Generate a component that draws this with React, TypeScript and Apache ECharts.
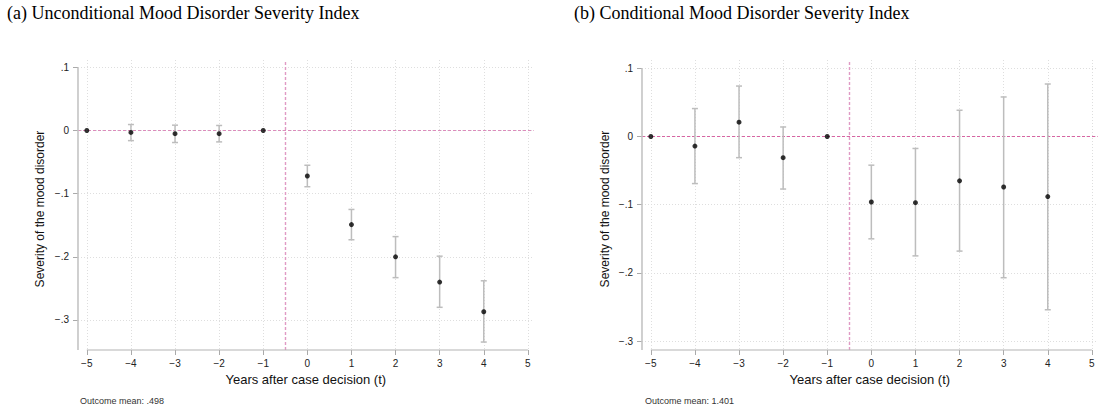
import React, { useEffect, useRef } from "react";
import * as echarts from "echarts";

const years = [-5, -4, -3, -2, -1, 0, 1, 2, 3, 4];
const uncondCoef = [0, -0.003, -0.005, -0.005, 0, -0.072, -0.149, -0.2, -0.24, -0.287];
const uncondLo = [0, -0.016, -0.019, -0.018, 0, -0.089, -0.173, -0.233, -0.28, -0.335];
const uncondHi = [0, 0.0095, 0.0085, 0.008, 0, -0.055, -0.125, -0.168, -0.199, -0.238];
const condCoef = [0, -0.014, 0.021, -0.031, 0, -0.096, -0.097, -0.065, -0.074, -0.088];
const condLo = [0, -0.069, -0.031, -0.077, 0, -0.15, -0.175, -0.168, -0.207, -0.254];
const condHi = [0, 0.041, 0.074, 0.014, 0, -0.042, -0.0175, 0.0385, 0.058, 0.077];

const xTicks = [-5, -4, -3, -2, -1, 0, 1, 2, 3, 4, 5];
const yTicks = [-0.3, -0.2, -0.1, 0, 0.1];

const titles = [
  "(a) Unconditional Mood Disorder Severity Index",
  "(b) Conditional Mood Disorder Severity Index",
];
const yTitle = "Severity of the mood disorder";
const xTitle = "Years after case decision (t)";
const notes = ["Outcome mean: .498", "Outcome mean: 1.401"];

const SANS = "Liberation Sans, Arial, Helvetica, sans-serif";

const fmtY = (v: number) => {
  if (Math.abs(v) < 1e-9) return "0";
  const s = Math.abs(v).toFixed(1).replace(/^0\./, ".");
  return v < 0 ? "\u2212" + s : s;
};
const fmtX = (v: number) => (v < 0 ? "\u2212" + Math.abs(v) : String(v));

export default function App() {
  const ref = useRef<HTMLDivElement>(null);
  useEffect(() => {
    if (!ref.current) return;
    const chart = echarts.init(ref.current, undefined, { renderer: "svg" });

    const panels = [
      { left: 78, coef: uncondCoef, lo: uncondLo, hi: uncondHi, ymin: -0.3476, ymax: 0.1117, hColor: "#dc8cbc", vColor: "#e09ac4", yAxisBottom: -0.3476 },
      { left: 642, coef: condCoef, lo: condLo, hi: condHi, ymin: -0.313, ymax: 0.1122, hColor: "#d765a3", vColor: "#e09ac4", yAxisBottom: -0.313 },
    ];
    const xmin = -5.2;
    const xmax = 5.13;
    const gridW = 455.6;

    const grids: any[] = [];
    const xAxes: any[] = [];
    const yAxes: any[] = [];
    const series: any[] = [];

    panels.forEach((p, i) => {
      grids.push({ left: p.left, top: 60, width: gridW, height: 290, containLabel: false });
      xAxes.push({
        type: "value",
        gridIndex: i,
        position: "bottom",
        min: xmin,
        max: xmax,
        axisLine: { show: false, onZero: false },
        axisTick: { show: true, customValues: xTicks, length: 5, lineStyle: { color: "#aaaaaa", width: 1 } },
        axisLabel: { customValues: xTicks, formatter: fmtX, margin: 8, color: "#222", fontSize: 10, fontFamily: SANS },
        splitLine: { show: true, lineStyle: { color: "#dedede", type: [1, 2], width: 1 } },
        name: xTitle,
        nameLocation: "middle",
        nameGap: 22,
        nameTextStyle: { color: "#111", fontSize: 13, fontFamily: SANS },
      });
      yAxes.push({
        type: "value",
        gridIndex: i,
        position: "left",
        min: p.ymin,
        max: p.ymax,
        axisLine: { show: false, onZero: false },
        axisTick: { show: true, customValues: yTicks, length: 5, lineStyle: { color: "#aaaaaa", width: 1 } },
        axisLabel: { customValues: yTicks, formatter: fmtY, margin: 9, color: "#222", fontSize: 10, fontFamily: SANS },
        splitLine: { show: true, lineStyle: { color: "#dedede", type: [1, 2], width: 1 } },
      });

      // axis lines
      series.push({
        type: "line",
        xAxisIndex: i,
        yAxisIndex: i,
        data: [[-5, p.ymin], [5, p.ymin]],
        showSymbol: false,
        symbol: "none",
        clip: false,
        silent: true,
        lineStyle: { color: "#b4b4b4", width: 1.2 },
        z: 3,
      });
      series.push({
        type: "line",
        xAxisIndex: i,
        yAxisIndex: i,
        data: [[xmin, 0.1], [xmin, p.yAxisBottom]],
        showSymbol: false,
        symbol: "none",
        clip: false,
        silent: true,
        lineStyle: { color: "#c4c4c4", width: 1.6 },
        z: 3,
      });

      // reference lines
      series.push({
        type: "line",
        xAxisIndex: i,
        yAxisIndex: i,
        data: [],
        silent: true,
        z: 3,
        markLine: {
          symbol: "none",
          silent: true,
          z: 3,
          label: { show: false },
          data: [
            { yAxis: 0, lineStyle: { color: p.hColor, type: [3, 2], width: 1.2 } },
            { xAxis: -0.5, lineStyle: { color: p.vColor, type: [3, 2], width: 1.4 } },
          ],
        },
      });

      // error bars
      series.push({
        type: "custom",
        xAxisIndex: i,
        yAxisIndex: i,
        data: years.map((y, k) => [y, p.lo[k], p.hi[k]]),
        encode: { x: 0, y: [1, 2] },
        z: 4,
        renderItem: (_params: any, api: any) => {
          const x = api.value(0);
          const lo = api.value(1);
          const hi = api.value(2);
          if (lo === hi) return null;
          const t = api.coord([x, hi]);
          const b = api.coord([x, lo]);
          const w = 3;
          const style = { stroke: "#bdbdbd", lineWidth: 1.5 };
          return {
            type: "group",
            children: [
              { type: "line", shape: { x1: t[0], y1: t[1], x2: b[0], y2: b[1] }, style },
              { type: "line", shape: { x1: t[0] - w, y1: t[1], x2: t[0] + w, y2: t[1] }, style },
              { type: "line", shape: { x1: b[0] - w, y1: b[1], x2: b[0] + w, y2: b[1] }, style },
            ],
          };
        },
      });

      // points
      series.push({
        type: "scatter",
        xAxisIndex: i,
        yAxisIndex: i,
        data: years.map((y, k) => [y, p.coef[k]]),
        symbol: "circle",
        symbolSize: 5,
        itemStyle: { color: "#000" },
        z: 5,
      });
    });

    const graphic: any[] = [
      { type: "text", left: 7, top: 4, style: { text: titles[0], font: "18px 'Liberation Serif', 'Times New Roman', serif", fill: "#000" } },
      { type: "text", left: 574, top: 4, style: { text: titles[1], font: "18px 'Liberation Serif', 'Times New Roman', serif", fill: "#000" } },
      { type: "text", x: 40, y: 209, rotation: Math.PI / 2, style: { text: yTitle, font: `12px ${SANS}`, fill: "#111", align: "center", verticalAlign: "middle" } },
      { type: "text", x: 605, y: 209, rotation: Math.PI / 2, style: { text: yTitle, font: `12px ${SANS}`, fill: "#111", align: "center", verticalAlign: "middle" } },
      { type: "text", x: 80, y: 401, style: { text: notes[0], font: `9px ${SANS}`, fill: "#333", verticalAlign: "middle" } },
      { type: "text", x: 645, y: 401, style: { text: notes[1], font: `9px ${SANS}`, fill: "#333", verticalAlign: "middle" } },
    ];

    chart.setOption({
      animation: false,
      backgroundColor: "#fff",
      grid: grids,
      xAxis: xAxes,
      yAxis: yAxes,
      series,
      graphic,
    });
    return () => chart.dispose();
  }, []);
  return (
    <div
      ref={ref}
      style={{ position: "fixed", left: 0, top: 0, width: 1099, height: 409 }}
    />
  );
}
